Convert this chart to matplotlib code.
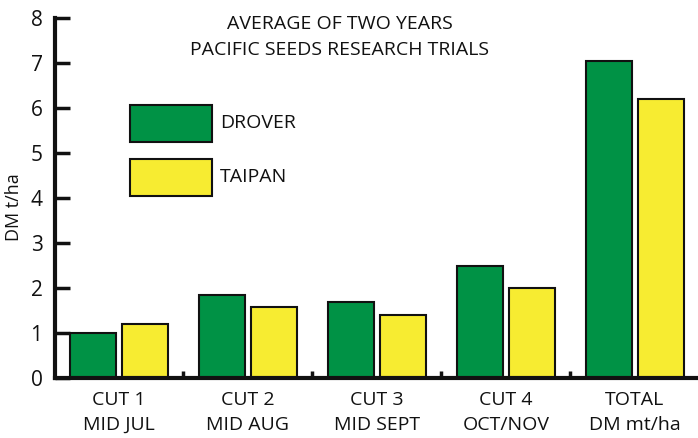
import matplotlib
matplotlib.use('Agg')
import matplotlib.pyplot as plt
from matplotlib.patches import Rectangle
import numpy as np

categories = ['CUT 1\nMID JUL', 'CUT 2\nMID AUG', 'CUT 3\nMID SEPT',
              'CUT 4\nOCT/NOV', 'TOTAL\nDM mt/ha']
drover = [1.0, 1.84, 1.69, 2.5, 7.05]
taipan = [1.2, 1.58, 1.4, 2.0, 6.2]
series_names = ['DROVER', 'TAIPAN']
colors = ['#009245', '#F7EC31']
title_lines = 'AVERAGE OF TWO YEARS\nPACIFIC SEEDS RESEARCH TRIALS'

plt.rcParams['font.family'] = ['Open Sans', 'DejaVu Sans']

fig = plt.figure(figsize=(6.98, 4.38), dpi=100)
ax = fig.add_axes([55 / 698, 60 / 438, 643 / 698, 360 / 438])

x = np.arange(len(categories))
w = 0.357
ax.bar(x - 0.2, drover, w, color=colors[0], edgecolor='#111111', linewidth=1.5)
ax.bar(x + 0.2, taipan, w, color=colors[1], edgecolor='#111111', linewidth=1.5)

ax.set_xlim(-0.496, 4.49)
ax.set_ylim(0, 8)

for s in ['top', 'right']:
    ax.spines[s].set_visible(False)
for s in ['left', 'bottom']:
    ax.spines[s].set_linewidth(3)
    ax.spines[s].set_color('#111111')

ax.set_yticks(range(0, 9))
ax.tick_params(axis='y', direction='in', length=11, width=2.5,
               labelsize=15, pad=9, colors='#111111')
ax.set_xticks(x[:-1] + 0.5)
ax.set_xticklabels([])
ax.tick_params(axis='x', direction='in', length=5, width=2.5, colors='#111111')

for xi, lab in zip(x, categories):
    ax.text(xi, -0.28, lab, ha='center', va='top', fontsize=14,
            linespacing=1.5, color='#111111')

ax.set_ylabel('DM t/ha', fontsize=13, color='#111111')
ax.yaxis.set_label_coords(-0.05, 0.475)

fig.text(340 / 698, 1 - 37 / 438, title_lines, ha='center', va='center',
         fontsize=14, linespacing=1.6, color='#111111')

# legend boxes
ys = [105, 159]
for name, c, yt in zip(series_names, colors, ys):
    fig.patches.append(Rectangle((130 / 698, 1 - (yt + 37) / 438), 82 / 698, 37 / 438,
                                 transform=fig.transFigure, facecolor=c,
                                 edgecolor='#111111', linewidth=1.5))
    fig.text(220 / 698, 1 - (yt + 18) / 438, name, ha='left', va='center',
             fontsize=14, color='#111111')

fig.savefig('out.png', dpi=100)
